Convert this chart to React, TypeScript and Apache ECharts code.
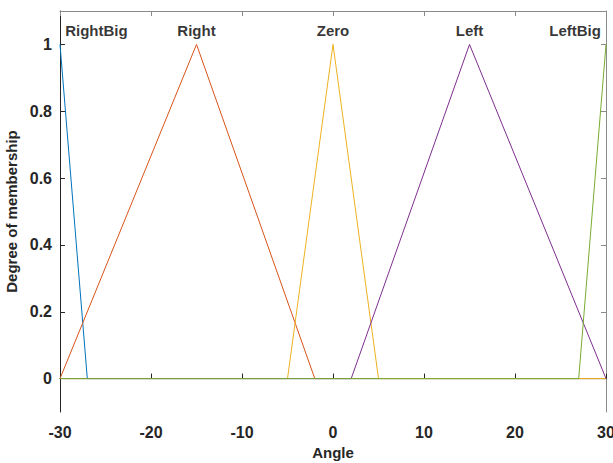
import React, { useEffect, useRef } from "react";
import * as echarts from "echarts";

// Membership functions of the "Angle" input, sampled at their breakpoints
const mfNames = ["RightBig", "Right", "Zero", "Left", "LeftBig"];
const mfColors = ["#0072BD", "#D95319", "#EDB120", "#7E2F8E", "#77AC30"];

const rightBigX = [-30, -27, 30];
const rightBigY = [1, 0, 0];
const rightX = [-30, -15, -2, 30];
const rightY = [0, 1, 0, 0];
const zeroX = [-30, -5, 0, 5, 30];
const zeroY = [0, 0, 1, 0, 0];
const leftX = [-30, 2, 15, 30];
const leftY = [0, 0, 1, 0];
const leftBigX = [-30, 27, 30];
const leftBigY = [0, 0, 1];

// Where each function's name is written above its peak
const labelX = [-26, -15, 0, 15, 26.6];
const labelY = [1.042, 1.042, 1.042, 1.042, 1.042];

const xTicks = [-30, -20, -10, 0, 10, 20, 30];
const yTicks = [0, 0.2, 0.4, 0.6, 0.8, 1];

const mfX = [rightBigX, rightX, zeroX, leftX, leftBigX];
const mfY = [rightBigY, rightY, zeroY, leftY, leftBigY];

const FONT = "'Liberation Sans', Arial, Helvetica, sans-serif";
const DARK = "#262626";
const LIGHT = "#8a8a8a";

export default function App() {
  const ref = useRef<HTMLDivElement>(null);

  useEffect(() => {
    if (!ref.current) return;
    const chart = echarts.init(ref.current, undefined, { renderer: "svg" });

    const lineSeries = mfNames.map((name, i) => ({
      type: "line",
      name,
      data: mfX[i].map((x, k) => [x, mfY[i][k]]),
      showSymbol: false,
      symbol: "none",
      lineStyle: { color: mfColors[i], width: 1 },
      itemStyle: { color: mfColors[i] },
      xAxisIndex: 0,
      yAxisIndex: 0,
      z: 2 + i,
    }));

    const labelSeries = {
      type: "scatter",
      name: "labels",
      data: mfNames.map((n, i) => ({ value: [labelX[i], labelY[i]], name: n })),
      symbolSize: 1,
      itemStyle: { color: "rgba(0,0,0,0)" },
      label: {
        show: true,
        position: "inside",
        formatter: (p: any) => p.name,
        color: "#000",
        fontFamily: FONT,
        fontWeight: "bold",
        fontSize: 15,
      },
      xAxisIndex: 0,
      yAxisIndex: 0,
      z: 10,
    };

    chart.setOption({
      animation: false,
      backgroundColor: "#fff",
      grid: {
        left: 60,
        right: 7,
        top: 11,
        bottom: 51,
        containLabel: false,
        outerBoundsMode: "none",
      },
      xAxis: [
        {
          type: "value",
          min: -30,
          max: 30,
          interval: 10,
          position: "bottom",
          name: "Angle",
          nameLocation: "middle",
          nameGap: 33,
          nameTextStyle: { fontFamily: FONT, fontWeight: "bold", fontSize: 15, color: DARK },
          axisLine: { show: true, lineStyle: { color: DARK, width: 1 } },
          axisTick: { show: true, inside: true, length: 5, lineStyle: { color: DARK } },
          axisLabel: {
            fontFamily: FONT,
            fontWeight: "bold",
            fontSize: 16,
            color: DARK,
            margin: 12,
            customValues: xTicks,
          },
          splitLine: { show: false },
        },
        {
          type: "value",
          min: -30,
          max: 30,
          interval: 10,
          position: "top",
          axisLine: { show: true, onZero: false, lineStyle: { color: LIGHT, width: 1 } },
          axisTick: { show: true, inside: true, length: 5, lineStyle: { color: LIGHT } },
          axisLabel: { show: false },
          splitLine: { show: false },
        },
      ],
      yAxis: [
        {
          type: "value",
          min: -0.1,
          max: 1.1,
          position: "left",
          name: "Degree of membership",
          nameLocation: "middle",
          nameGap: 37,
          nameTextStyle: { fontFamily: FONT, fontWeight: "bold", fontSize: 15, color: DARK },
          axisLine: { show: true, onZero: false, lineStyle: { color: DARK, width: 1 } },
          axisTick: { show: true, inside: true, length: 5, lineStyle: { color: DARK }, customValues: yTicks },
          axisLabel: {
            fontFamily: FONT,
            fontWeight: "bold",
            fontSize: 16,
            color: DARK,
            margin: 8,
            customValues: yTicks,
            formatter: (v: number) => String(Math.round(v * 10) / 10),
          },
          splitLine: { show: false },
        },
        {
          type: "value",
          min: -0.1,
          max: 1.1,
          position: "right",
          axisLine: { show: true, onZero: false, lineStyle: { color: LIGHT, width: 1 } },
          axisTick: { show: true, inside: true, length: 5, lineStyle: { color: LIGHT }, customValues: yTicks },
          axisLabel: { show: false },
          splitLine: { show: false },
        },
      ],
      series: [...lineSeries, labelSeries],
    });

    return () => chart.dispose();
  }, []);

  return (
    <div
      ref={ref}
      style={{ position: "fixed", left: 0, top: 0, width: 613, height: 463 }}
    />
  );
}
